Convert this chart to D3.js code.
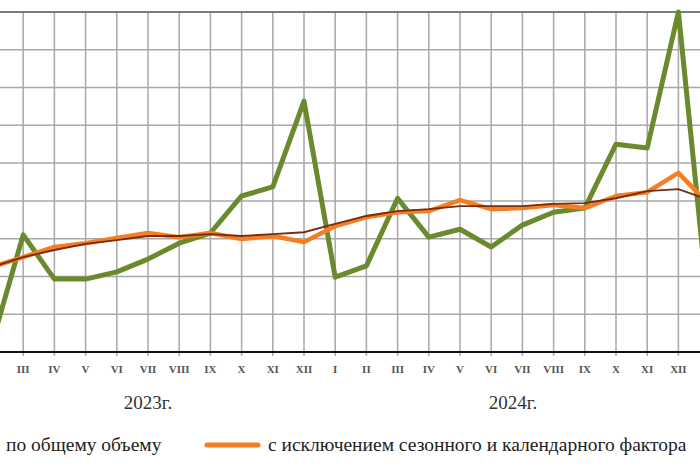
<!DOCTYPE html>
<html><head><meta charset="utf-8">
<script src="https://cdnjs.cloudflare.com/ajax/libs/d3/7.8.5/d3.min.js"></script>
<style>body{margin:0;background:#fff}svg{display:block}</style>
</head><body><svg id="c" width="700" height="466"></svg>
<script>
// months from II 2023 to I 2025
var months = ['II','III','IV','V','VI','VII','VIII','IX','X','XI','XII',
  'I','II','III','IV','V','VI','VII','VIII','IX','X','XI','XII','I'];
var years = [{label:'2023г.', i:5}, {label:'2024г.', i:16.7}];
var total = [0.24,3.1,1.93,1.93,2.12,2.46,2.88,3.15,4.13,4.37,6.64,
  1.98,2.28,4.07,3.04,3.25,2.78,3.36,3.7,3.81,5.5,5.4,9.0,0.85];
var adjusted = [2.25,2.51,2.78,2.88,3.02,3.15,3.04,3.15,2.99,3.07,2.91,
  3.33,3.57,3.70,3.73,4.02,3.78,3.81,3.89,3.81,4.13,4.23,4.74,3.89];
var trend = [2.25,2.51,2.7,2.86,2.96,3.07,3.07,3.12,3.07,3.12,3.17,
  3.39,3.6,3.73,3.78,3.86,3.86,3.86,3.92,3.94,4.07,4.26,4.31,4.02];
var legend = ['по общему  объему', 'с исключением  сезонного  и  календарного  фактора'];

var svg = d3.select('#c');
var x = d3.scaleLinear().domain([0, 1]).range([-8, 23.2]);
var y = d3.scaleLinear().domain([0, 9]).range([352, 12]);

var grid = svg.append('g');
grid.selectAll('line.h').data(d3.range(1, 10)).enter().append('line')
  .attr('x1', 0).attr('x2', 700)
  .attr('y1', function(d){ return y(d); }).attr('y2', function(d){ return y(d); })
  .attr('stroke', '#a8a8a8').attr('stroke-width', 1.5);
grid.selectAll('line.v').data(d3.range(0, months.length + 1)).enter().append('line')
  .attr('x1', function(d){ return x(d); }).attr('x2', function(d){ return x(d); })
  .attr('y1', y(9)).attr('y2', y(0) + 4)
  .attr('stroke', '#a8a8a8').attr('stroke-width', 1.5);
svg.append('line').attr('x1', 0).attr('x2', 700).attr('y1', y(9)).attr('y2', y(9))
  .attr('stroke', '#666').attr('stroke-width', 1.5);
svg.append('line').attr('x1', 0).attr('x2', 700).attr('y1', y(0)).attr('y2', y(0))
  .attr('stroke', '#111').attr('stroke-width', 2);

// labels outside the visible crop are left out
svg.append('g').selectAll('text')
  .data(months.map(function(m, i){ return {m:m, i:i}; })
    .filter(function(d){ return x(d.i) > 8 && x(d.i) < 692; }))
  .enter().append('text')
  .attr('x', function(d){ return x(d.i); }).attr('y', 373)
  .attr('text-anchor', 'middle').attr('font-family', 'Liberation Serif')
  .attr('font-size', 11).attr('font-weight', 'bold').attr('fill', '#555')
  .text(function(d){ return d.m; });
svg.append('g').selectAll('text').data(years).enter().append('text')
  .attr('x', function(d){ return x(d.i); }).attr('y', 409)
  .attr('text-anchor', 'middle').attr('font-family', 'Liberation Serif')
  .attr('font-size', 19).attr('fill', '#333')
  .text(function(d){ return d.label; });

var line = d3.line().x(function(d, i){ return x(i); }).y(function(d){ return y(d); });
svg.append('path').datum(total).attr('d', line).attr('fill', 'none')
  .attr('stroke', '#6a8a2e').attr('stroke-width', 5).attr('stroke-linejoin', 'round');
svg.append('path').datum(adjusted).attr('d', line).attr('fill', 'none')
  .attr('stroke', '#f57e22').attr('stroke-width', 4.5).attr('stroke-linejoin', 'round');
svg.append('path').datum(trend).attr('d', line).attr('fill', 'none')
  .attr('stroke', '#7a2a10').attr('stroke-width', 1.8);

var lg = svg.append('g').attr('font-family', 'Liberation Serif').attr('font-size', 19.5)
  .attr('fill', '#222');
lg.append('text').attr('x', 6).attr('y', 451).text(legend[0]);
lg.append('line').attr('x1', 207).attr('x2', 258).attr('y1', 445).attr('y2', 445)
  .attr('stroke', '#f57e22').attr('stroke-width', 5).attr('stroke-linecap', 'round');
lg.append('text').attr('x', 268).attr('y', 451).text(legend[1]);
</script></body></html>
